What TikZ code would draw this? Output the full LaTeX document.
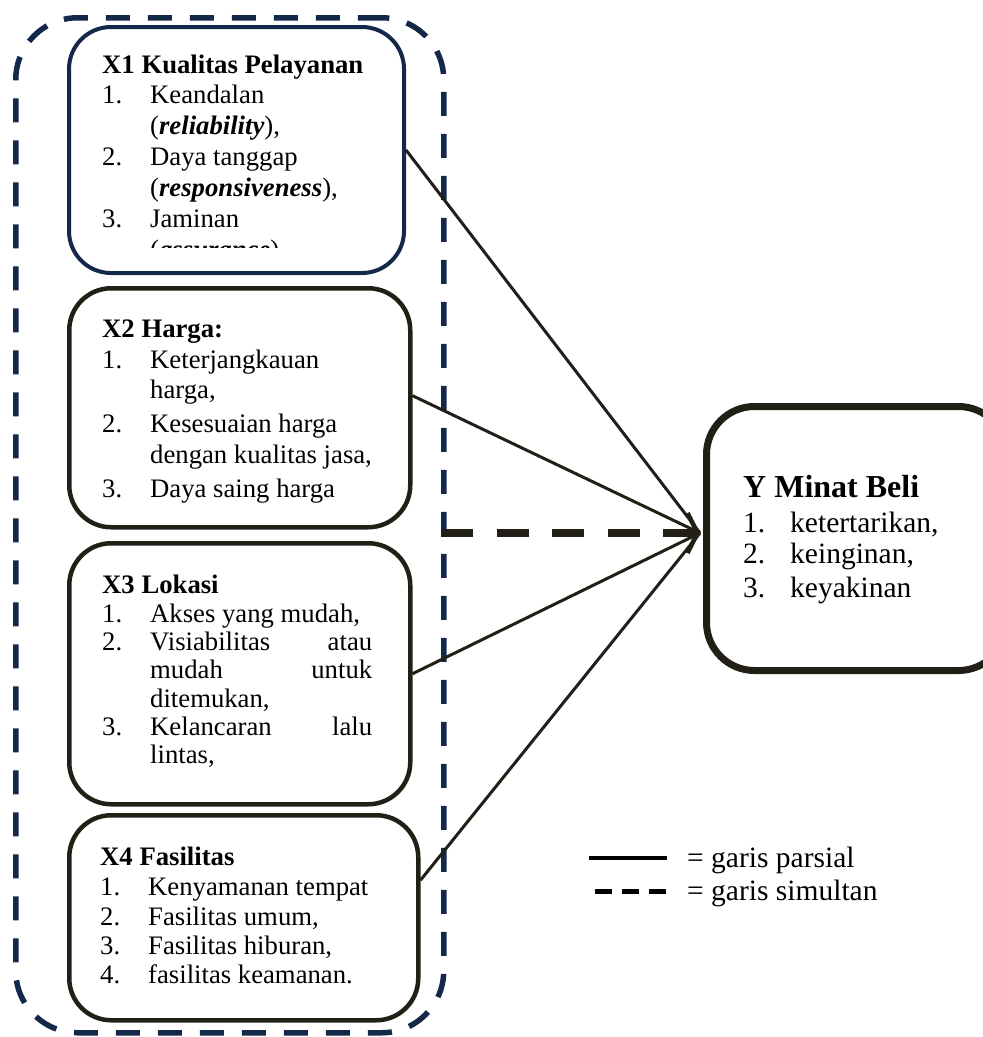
\documentclass[tikz,border=0pt]{standalone}
\usepackage{fontspec}
\setmainfont{Liberation Serif}
\usetikzlibrary{arrows.meta}
\definecolor{navy}{HTML}{14284A}
\definecolor{dark}{HTML}{221F16}
\begin{document}
\begin{tikzpicture}[x=1pt,y=-1pt,
  box/.style={draw=dark,line width=4.5pt,rounded corners=42pt,anchor=north west,inner sep=0pt},
  txt/.style={anchor=base west,inner sep=0pt,font=\fontsize{26.7}{31}\selectfont},
  ytxt/.style={anchor=base west,inner sep=0pt,font=\fontsize{29.5}{34}\selectfont},
  conn/.style={draw=dark,line width=3pt},
]
\useasboundingbox (0,0) rectangle (983,1037);
% group
\node[draw=navy,line width=5.5pt,dash pattern=on 24pt off 18pt,rounded corners=62pt,anchor=north west,minimum width=428pt,minimum height=1015pt,inner sep=0pt] (grp) at (13,15) {};
% boxes
\node[box,draw=navy,line width=4pt,minimum width=335pt,minimum height=246pt] (x1) at (67,25) {};
\node[box,minimum width=341pt,minimum height=239pt] (x2) at (67,286) {};
\node[box,minimum width=341pt,minimum height=261pt] (x3) at (67,541) {};
\node[box,minimum width=349pt,minimum height=205pt] (x4) at (67,813) {};
\node[box,line width=7pt,rounded corners=48pt,minimum width=300pt,minimum height=264pt] (y) at (703,403) {};
% X1 text
\begin{scope}
\clip (70,28) rectangle (400,247);
\node[txt] (x1t) at (102,73) {\textbf{X1 Kualitas Pelayanan}};
\node[txt] (x1n1) at (102,103) {1.};
\node[txt] (x1a) at (150,103) {Keandalan};
\node[txt] (x1b) at (150,134) {(\textbf{\textit{reliability}}),};
\node[txt] (x1n2) at (102,165) {2.};
\node[txt] (x1c) at (150,165) {Daya tanggap};
\node[txt] (x1d) at (150,196) {(\textbf{\textit{responsiveness}}),};
\node[txt] (x1n3) at (102,227) {3.};
\node[txt] (x1e) at (150,227) {Jaminan};
\node[txt] (x1f) at (150,258) {(\textbf{\textit{assurance}}),};
\end{scope}
% X2 text
\node[txt] (x2t) at (102,337) {\textbf{X2 Harga:}};
\node[txt] (x2n1) at (102,368) {1.};
\node[txt] (x2a) at (150,368) {Keterjangkauan};
\node[txt] (x2b) at (150,398) {harga,};
\node[txt] (x2n2) at (102,432) {2.};
\node[txt] (x2c) at (150,432) {Kesesuaian harga};
\node[txt] (x2d) at (150,463) {dengan kualitas jasa,};
\node[txt] (x2n3) at (102,497) {3.};
\node[txt] (x2e) at (150,497) {Daya saing harga};
% X3 text
\node[txt] (x3t) at (102,593) {\textbf{X3 Lokasi}};
\node[txt] (x3n1) at (102,622) {1.};
\node[txt] (x3a) at (150,622) {Akses yang mudah,};
\node[txt] (x3n2) at (102,650) {2.};
\node[txt] (x3b) at (150,650) {\makebox[222pt][s]{Visiabilitas\hfill atau}};
\node[txt] (x3c) at (150,678) {\makebox[222pt][s]{mudah\hfill untuk}};
\node[txt] (x3d) at (150,707) {ditemukan,};
\node[txt] (x3n3) at (102,735) {3.};
\node[txt] (x3e) at (150,735) {\makebox[222pt][s]{Kelancaran\hfill lalu}};
\node[txt] (x3f) at (150,763) {lintas,};
% X4 text
\node[txt] (x4t) at (100,865) {\textbf{X4 Fasilitas}};
\node[txt] (x4n1) at (100,895) {1.};
\node[txt] (x4a) at (148,895) {Kenyamanan tempat};
\node[txt] (x4n2) at (100,925) {2.};
\node[txt] (x4b) at (148,925) {Fasilitas umum,};
\node[txt] (x4n3) at (100,954) {3.};
\node[txt] (x4c) at (148,954) {Fasilitas hiburan,};
\node[txt] (x4n4) at (100,983) {4.};
\node[txt] (x4d) at (148,983) {fasilitas keamanan.};
% Y text
\node[ytxt,font=\fontsize{32}{36}\selectfont] (yt) at (743,497) {\textbf{Y Minat Beli}};
\node[ytxt] (yn1) at (743,532) {1.};
\node[ytxt] (ya) at (790,532) {ketertarikan,};
\node[ytxt] (yn2) at (743,563) {2.};
\node[ytxt] (yb) at (790,563) {keinginan,};
\node[ytxt] (yn3) at (743,597) {3.};
\node[ytxt] (yc) at (790,597) {keyakinan};
% connectors
\coordinate (tip) at (700,533);
\coordinate (dstart) at (441,533);
\draw[conn] (x1.east) -- (tip);
\draw[conn] (x2.4) -- (tip);
\draw[conn] (x3.east) -- (tip);
\draw[conn] (x4.12) -- (tip);
\draw[draw=dark,line width=8pt,dash pattern=on 32pt off 23.5pt,-{Straight Barb[length=10pt,width=40pt,line width=4.5pt]}] (dstart) -- (tip);
% legend
\coordinate (l1a) at (589,858); \coordinate (l1b) at (667,858);
\coordinate (l2a) at (595,891); \coordinate (l2b) at (667,891);
\draw[draw=black,line width=4pt] (l1a) -- (l1b);
\draw[draw=black,line width=5pt,dash pattern=on 17pt off 10pt] (l2a) -- (l2b);
\node[ytxt] (lt1) at (687,867) {= garis parsial};
\node[ytxt] (lt2) at (687,900) {= garis simultan};
\end{tikzpicture}
\end{document}
